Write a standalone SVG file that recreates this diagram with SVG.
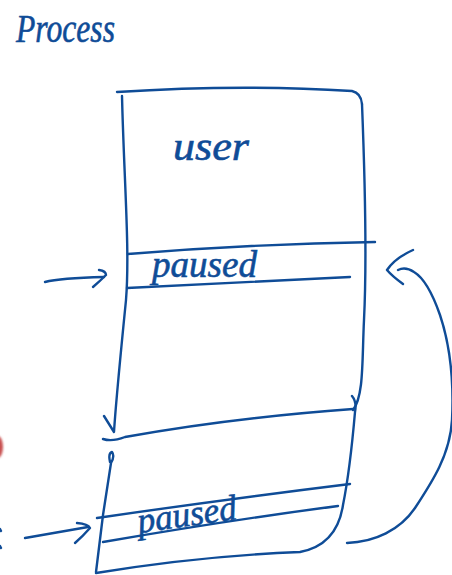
<svg xmlns="http://www.w3.org/2000/svg" width="452" height="575" viewBox="0 0 452 575">
  <style>
    .ink { fill: none; stroke: #0f4c97; stroke-width: 2.4; stroke-linecap: round; stroke-linejoin: round; }
    .hand { font-family: "Liberation Serif", "DejaVu Serif", serif; font-style: italic; fill: #0f4c97; stroke: #0f4c97; stroke-width: 0.6; }
  </style>
  <defs>
    <filter id="soft" x="-50%" y="-50%" width="200%" height="200%">
      <feGaussianBlur stdDeviation="1.2"/>
    </filter>
  </defs>
  <rect width="452" height="575" fill="#ffffff"/>

  <!-- title -->
  <g id="title">
    <text class="hand" x="16" y="42" font-size="40" textLength="99" lengthAdjust="spacingAndGlyphs">Process</text>
  </g>

  <!-- upper stack frame -->
  <g id="user-frame">
    <path class="ink" d="M117,92 Q240,84 352,91 Q361,93 362,104"/>
    <path class="ink" d="M362,104 C365,180 367,260 364,320 C362,360 364,396 353,410"/>
    <path class="ink" d="M353,409 Q230,418 125,437 Q112,442 103,439"/>
    <path class="ink" d="M122,96 C124,180 130,250 126,300 C121,350 116,400 114,432 L104,416"/>
    <text class="hand" x="173" y="160" font-size="42" textLength="76" lengthAdjust="spacingAndGlyphs">user</text>
  </g>

  <!-- paused slot in upper frame -->
  <g id="paused-upper">
    <path class="ink" d="M128,254 Q250,244 375,242"/>
    <path class="ink" d="M127,288 Q250,282 350,277"/>
    <text class="hand" x="152" y="277" font-size="38" textLength="105" lengthAdjust="spacingAndGlyphs">paused</text>
  </g>

  <!-- lower stack frame -->
  <g id="lower-frame">
    <path class="ink" d="M110,462 Q108,453 112,452 Q115,456 111,463 L103,515 L96,572"/>
    <path class="ink" d="M352,396 Q357,402 355,412 Q350,470 343,505 Q337,545 300,552 Q200,556 96,573"/>
  </g>

  <!-- paused slot in lower frame -->
  <g id="paused-lower">
    <path class="ink" d="M97,518 Q220,500 350,484"/>
    <path class="ink" d="M103,542 Q230,520 338,506"/>
    <text class="hand" x="0" y="0" font-size="36" textLength="100" lengthAdjust="spacingAndGlyphs" transform="translate(139,533) rotate(-8)">paused</text>
  </g>

  <!-- arrows -->
  <g id="connectors">
    <path class="ink" d="M45,282 Q60,278 104,277"/>
    <path class="ink" d="M99,270 Q106,271 106,275 Q100,281 93,287"/>
    <path class="ink" d="M25,538 L88,527"/>
    <path class="ink" d="M77,523 Q88,524 90,528 Q83,536 75,543"/>
    <path class="ink" d="M347,543 C375,542 400,530 415,508 C432,482 450,455 452,420 C454,380 450,345 440,315 C432,292 424,278 414,272 C408,268 402,268 398,270"/>
    <path class="ink" d="M413,250 Q395,258 387,270 Q392,276 403,284"/>
  </g>

  <!-- edge marks -->
  <g id="edge-marks">
    <ellipse cx="-2" cy="447" rx="5" ry="11" fill="#c85050" filter="url(#soft)"/>
    <path class="ink" d="M0,529 L1,531"/>
    <path class="ink" d="M0,546 L1,548"/>
  </g>
</svg>
